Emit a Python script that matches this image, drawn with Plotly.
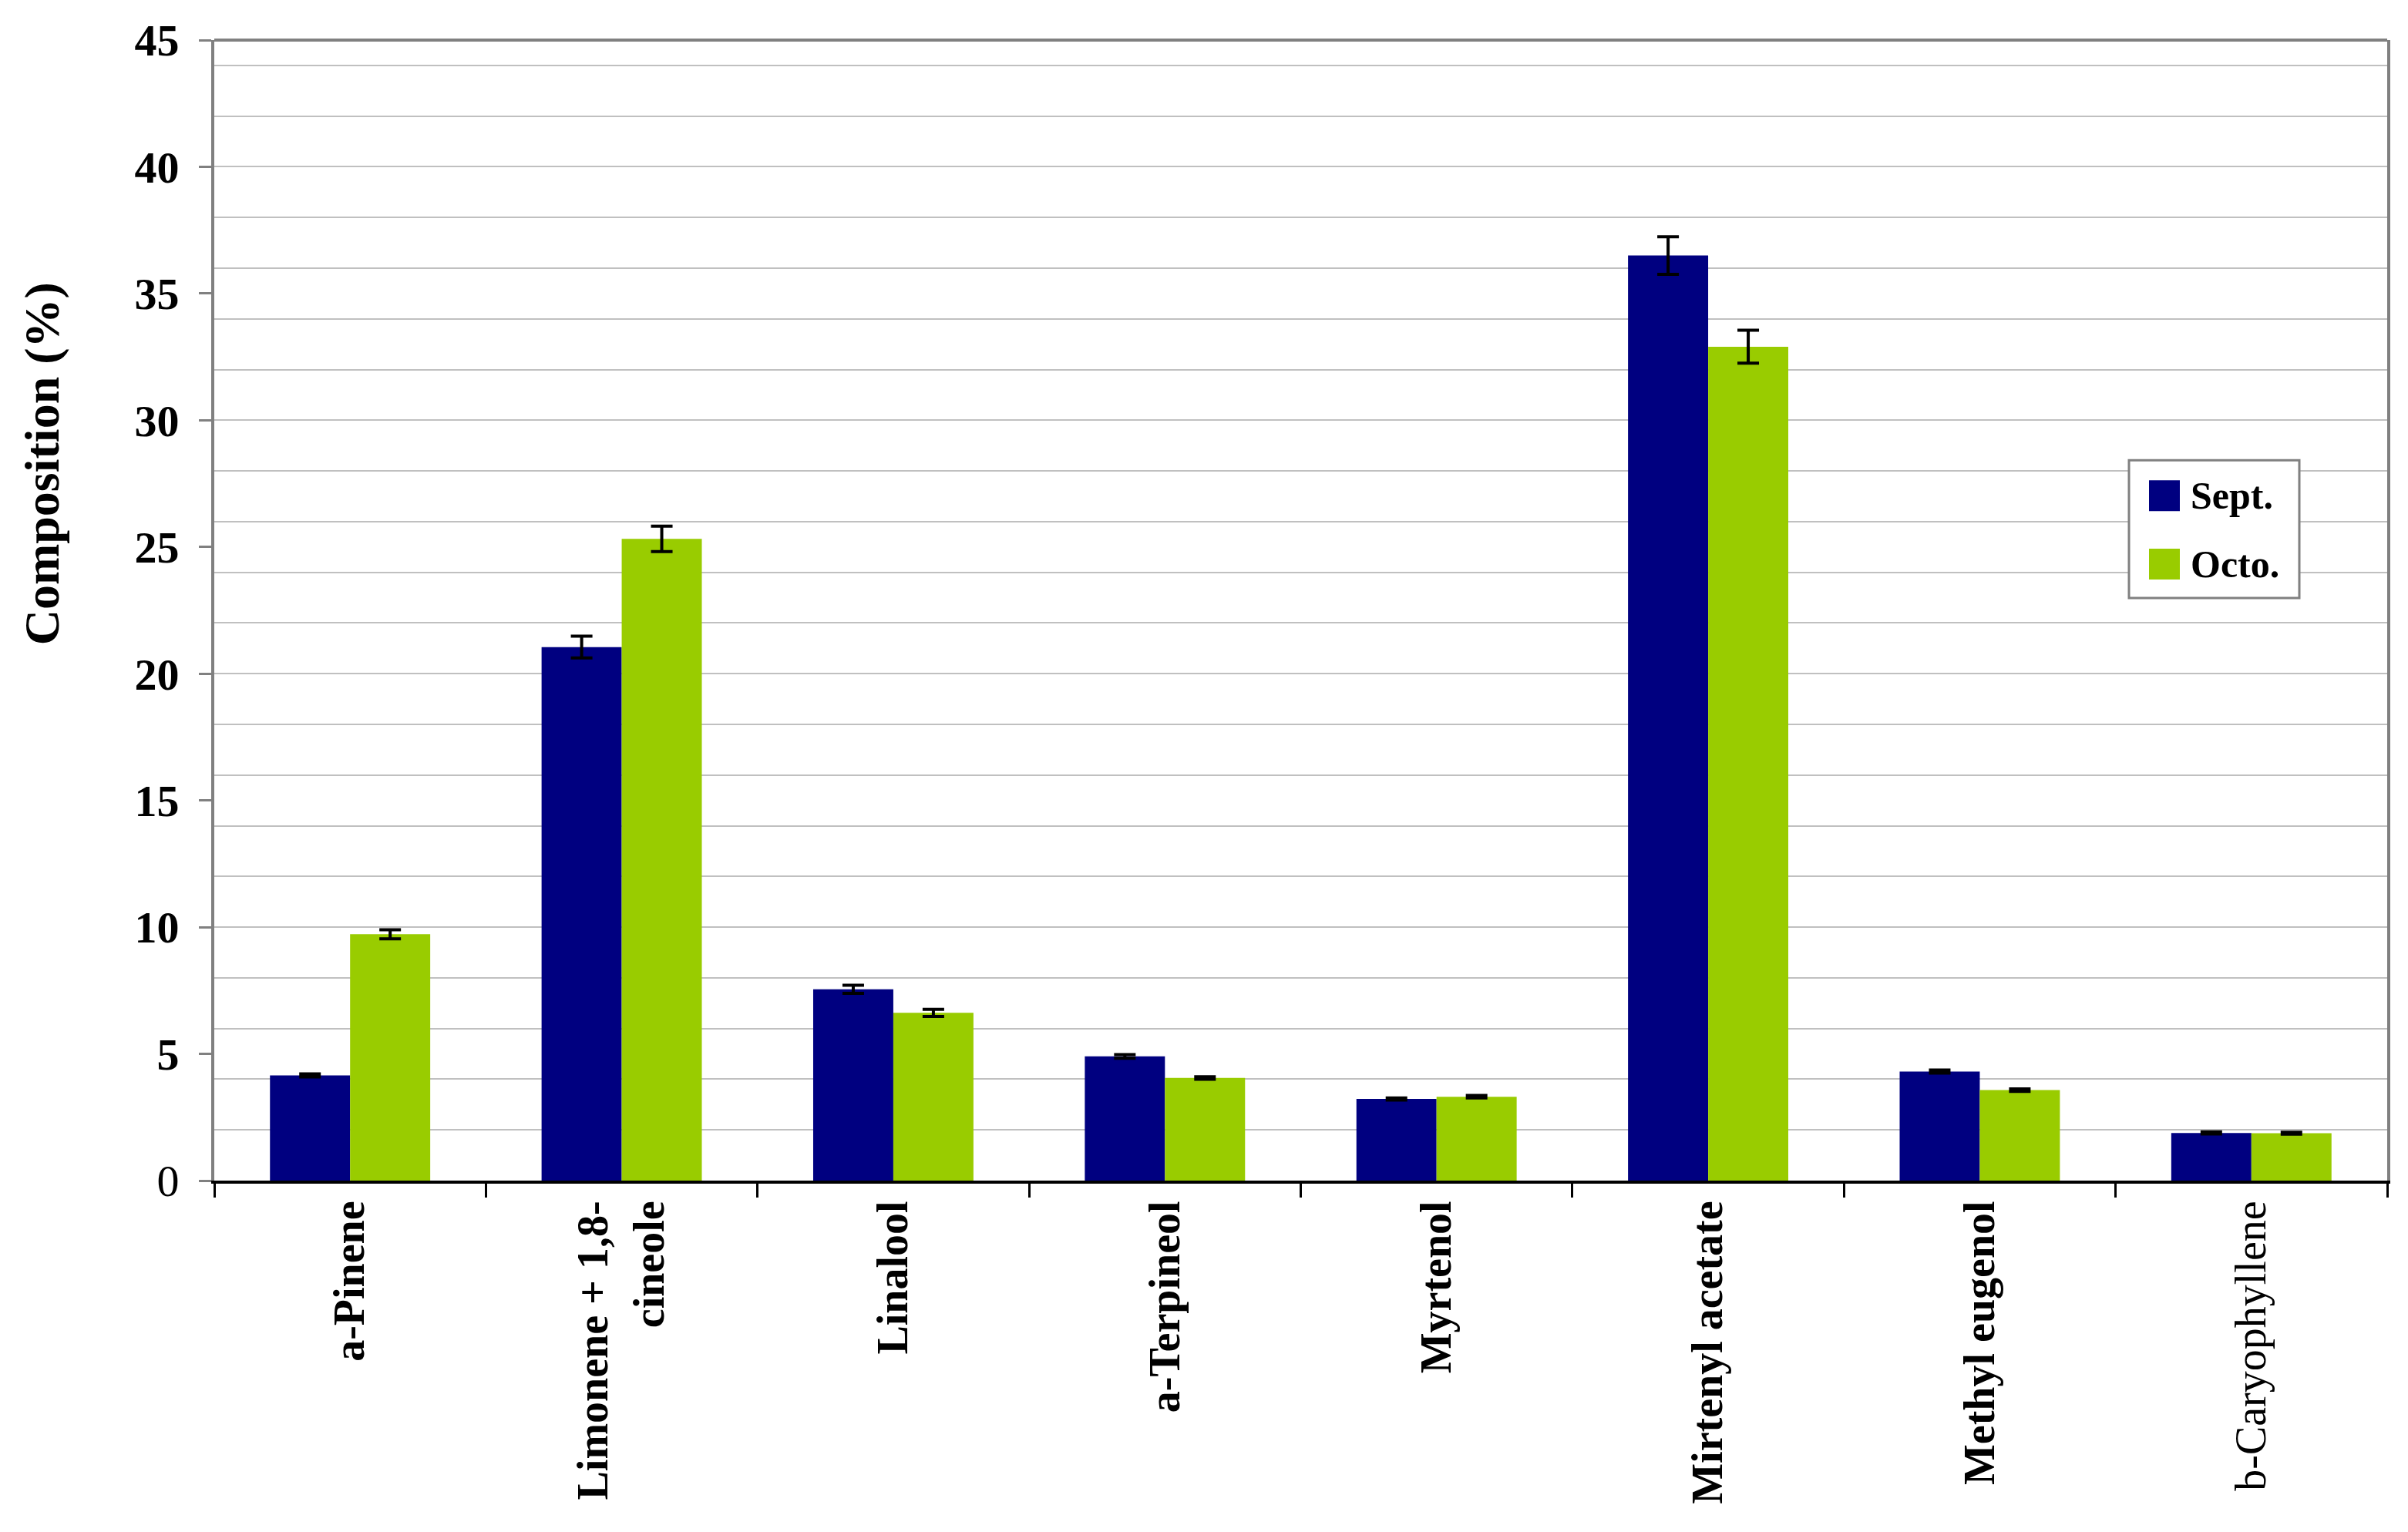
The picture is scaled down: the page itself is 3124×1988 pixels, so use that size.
import plotly.graph_objects as go

# composition data (%)
compounds = ["a-Pinene", "Limonene + 1,8-cineole", "Linalool", "a-Terpineol",
             "Myrtenol", "Mirtenyl acetate", "Methyl eugenol", "b-Caryophyllene"]
tick_labels = ["<b>a-Pinene</b>", "<b>Limonene + 1,8-</b><br><b>cineole</b>", "<b>Linalool</b>",
               "<b>a-Terpineol</b>", "<b>Myrtenol</b>", "<b>Mirtenyl acetate</b>",
               "<b>Methyl eugenol</b>", "b-Caryophyllene"]
sept = [4.15, 21.05, 7.55, 4.9, 3.22, 36.5, 4.3, 1.88]
sept_err = [0.06, 0.43, 0.16, 0.07, 0.04, 0.74, 0.06, 0.04]
octo = [9.72, 25.32, 6.62, 4.05, 3.31, 32.9, 3.57, 1.87]
octo_err = [0.18, 0.5, 0.14, 0.05, 0.05, 0.65, 0.05, 0.04]

y_ticks = [0, 5, 10, 15, 20, 25, 30, 35, 40, 45]
y_ticktext = ["0"] + [f"<b>{v}</b>" for v in y_ticks[1:]]

FONT = "Liberation Serif"
NAVY = "#000080"
GREEN = "#99CC00"
GRAY = "#808080"

# plot area in figure pixels (page body adds 8px)
PL, PT, PW, PH = 270, 42, 2819, 1482


def px_x(x):
    return (x - PL) / PW


def px_y(y):
    return (PT + PH - y) / PH


fig = go.Figure()
fig.add_trace(go.Bar(
    x=compounds, y=sept, name="Sept.", marker=dict(color=NAVY, line=dict(width=0)),
    error_y=dict(type="data", array=sept_err, color="black", thickness=4, width=14),
))
fig.add_trace(go.Bar(
    x=compounds, y=octo, name="Octo.", marker=dict(color=GREEN, line=dict(width=0)),
    error_y=dict(type="data", array=octo_err, color="black", thickness=4, width=14),
))

fig.update_layout(
    width=3124, height=1988,
    margin=dict(l=PL, r=3124 - PL - PW, t=PT, b=1988 - PT - PH),
    paper_bgcolor="white", plot_bgcolor="white",
    barmode="group", bargap=0.41, bargroupgap=0,
    showlegend=False,
    font=dict(family=FONT, color="black"),
)

fig.update_yaxes(
    range=[0, 45], tickvals=y_ticks, ticktext=y_ticktext,
    tickfont=dict(family=FONT, size=58, color="black"),
    ticks="outside", ticklen=16, tickwidth=3, tickcolor=GRAY,
    ticklabelstandoff=14,
    showgrid=False, zeroline=False,
    minor=dict(dtick=2, tick0=0, showgrid=True, gridcolor="#c0c0c0", gridwidth=1.5, ticks=""),
    showline=True, linecolor=GRAY, linewidth=4, mirror=True,
)
fig.update_xaxes(
    tickvals=compounds, ticktext=tick_labels, tickangle=-90,
    tickfont=dict(family=FONT, size=56, color="black"),
    ticks="outside", tickson="boundaries", ticklen=18, tickwidth=3, tickcolor="black",
    showline=True, linecolor="black", linewidth=4,
    showgrid=False,
)

# gray top border of the plot frame
fig.add_shape(type="line", xref="paper", yref="paper", x0=0, x1=1, y0=1, y1=1,
              line=dict(color=GRAY, width=4))

# y axis title, sitting above the plot's middle as in the original
fig.add_annotation(text="<b>Composition (%)</b>", textangle=-90,
                   xref="paper", yref="paper", x=px_x(46), y=px_y(593),
                   xanchor="center", yanchor="middle",
                   showarrow=False, font=dict(family=FONT, size=64, color="black"))

# legend box drawn by hand (big swatches)
fig.add_shape(type="rect", xref="paper", yref="paper",
              x0=px_x(2754), x1=px_x(2975), y0=px_y(767), y1=px_y(588),
              line=dict(color=GRAY, width=3), fillcolor="white", layer="above")
for name, color, cy in [("Sept.", NAVY, 634), ("Octo.", GREEN, 723)]:
    fig.add_shape(type="rect", xref="paper", yref="paper",
                  x0=px_x(2780), x1=px_x(2820), y0=px_y(cy + 20), y1=px_y(cy - 20),
                  line=dict(width=0), fillcolor=color, layer="above")
    fig.add_annotation(text=f"<b>{name}</b>", xref="paper", yref="paper",
                       x=px_x(2832), y=px_y(cy),
                       xanchor="left", yanchor="middle", showarrow=False,
                       font=dict(family=FONT, size=50, color="black"))

fig.write_html("out.html")
